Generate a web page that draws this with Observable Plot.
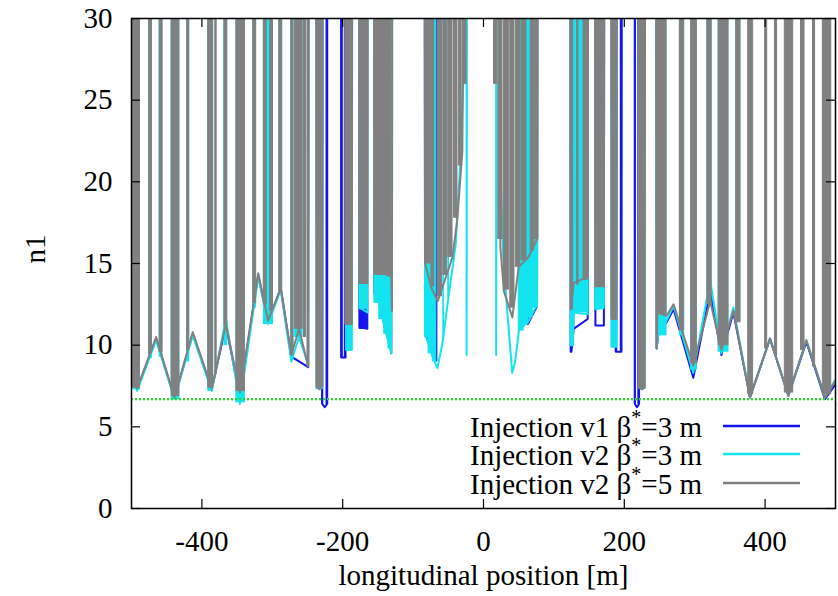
<!DOCTYPE html>
<html><head><meta charset="utf-8">
<script src="https://cdn.jsdelivr.net/npm/d3@7"></script>
<script src="https://cdn.jsdelivr.net/npm/@observablehq/plot@0.6"></script>
<style>body{margin:0;background:#fff}</style>
</head><body><div id="chart"></div>
<script>
const T = 60; // n1 far beyond the plotted range (aperture edges)
const xTicks = [-400, -200, 0, 200, 400];
const yTicks = [0, 5, 10, 15, 20, 25, 30];
const seriesNames = ["Injection v1 β", "Injection v2 β", "Injection v2 β"];
const seriesTails = ["=3 m", "=3 m", "=5 m"];
const seriesColors = ["#1414f0", "#12e4f0", "#808080"];
const limitColor = "#22dd22";
const n1Limit = 6.7;

// Injection v1 beta*=3 m
const blueLine = [
[-500,7.9],[-492,7.3],[-465,10.4],[-439,6.75],[-413,10.7],[-386,7.3],[-366,11.2],[-346,6.9],[-320,14.3],[-306,11.4],[-288,13.5],[-273,9.3],[-249,8.65],[-248,T],[-229,T],[-229,6.4],[-225.5,6.2],[-222,6.4],[-222,T],[-202,T],[-202,9.25],[-196,9.25],[-196,T],[-176,T],[-176,11.1],[-165,11.0],[-165,T],[-155,T],[-155,13.2],[-138,11.6],[-131,9.5],[-130,T],[-84,T],[-83,10.7],[-67,9.06],[-66,T],[63,T],[63,11.3],[76,12.4],[77,T],[123,T],[124,9.6],[125,9.6],[128,11.0],[148,11.6],[149,T],[158,T],[159,11.2],[171,11.2],[172,T],[187,T],[188,9.6],[196,9.6],[197,T],[215,T],[215,6.4],[218,6.2],[221,6.4],[221,T],[245,T],[246,9.8],[248,10.6],[260,11.4],[270,12.2],[298,8.0],[322,13.3],[338,9.4],[355,12.0],[378.5,6.8],[407,10.4],[433,6.9],[458.6,10.2],[485,6.7],[500,7.6]
];
const blueBars = [
[-229,-228,6.4],[-223,-222,6.4],[-202,-200,9.25],[-197,-196,9.25],[-176,-165,11.0],[-69,-66,9.06],[62,65,11.3],[124,125,9.6],[128,129,11.0],[188,190,9.6],[195,196,9.6],[215,216,6.4],[220,221,6.4]
];

// Injection v2 beta*=3 m
const cyanLine = [
[-500,8.1],[-492,7.2],[-465,10.3],[-439,6.7],[-413,10.6],[-386,7.2],[-366,11.6],[-346,6.4],[-320,14.2],[-306,11.3],[-288,13.4],[-273,9.0],[-262,10.5],[-249,8.8],[-248,T],[-238,T],[-237,7.4],[-229,7.4],[-228,T],[-196,T],[-195,9.7],[-187,9.7],[-186,T],[-177,T],[-176,12.3],[-165,12.0],[-164,T],[-156,T],[-155,14.7],[-148,12.4],[-140,11.0],[-131,9.5],[-130,T],[-84,T],[-83,10.7],[-72.5,9.3],[-65.4,8.6],[-58.4,10.1],[-48.9,13.2],[-39.4,16.2],[-32.3,21.7],[-27.6,27.4],[-25,T],[-24,T],[-24,9.4],[-23,T],[18,T],[18,9.4],[19,T],[20,T],[24.3,20.3],[28,15.5],[33.7,12.1],[40.8,8.3],[45,9.0],[50.3,10.9],[64.4,11.5],[76.2,12.5],[77,T],[123,T],[124,10.0],[127,10.0],[128,12.0],[148,11.9],[149,T],[158,T],[159,12.2],[171,12.3],[172,T],[181,T],[182,9.9],[189,9.9],[190,T],[220,T],[221,7.4],[229,7.4],[230,T],[245,T],[246,9.8],[248,10.6],[260,11.5],[270,12.4],[298,8.3],[322,14.0],[338,9.5],[355,12.3],[378.5,6.8],[407,10.4],[433,6.9],[458.6,10.3],[485,6.8],[500,7.9]
];
const cyanBars = [
[-499,-488,7.3],[-475,-471,9.2],[-460,-456,9.3],[-443,-432,6.7],[-421,-418,9.0],[-391,-384,7.2],[-368,-364,10.0],[-351,-339,6.5],[-327,-323,12.3],[-312,-299,11.3],[-290,-286,13.1],[-273,-270,9.1],[-268,-257,10.5],[-237,-229,7.3],[-195,-187,9.7],[-176,-165,12.2],[-155,-148,12.6],[-148,-141,11.6],[-141,-135,10.7],[-135,-131,9.8],[-83,-78,10.5],[-78,-72,9.5],[-72,-67,9.0],[-57,-56,10.4],[-50,-49,12.9],[50,57,10.9],[57,64,11.3],[64,70,11.7],[70,77,12.3],[124,127,10.0],[128,148,12.0],[159,171,12.2],[182,189,9.9],[248,260,10.6],[279,285,10.6],[295,303,8.5],[318,324,13.2],[334,348,9.6],[359,365,11.5]
];

// Injection v2 beta*=5 m
const grayLine = [
[-500,8.0],[-492,7.35],[-465,10.5],[-439,6.8],[-413,10.8],[-386,7.35],[-366,11.3],[-346,7.1],[-320,14.4],[-306,11.5],[-288,13.5],[-273,9.4],[-262,11.0],[-249,8.7],[-248,T],[-238,T],[-237,7.5],[-233,7.3],[-229,7.5],[-228,T],[-197,T],[-196,11.3],[-187,11.3],[-186,T],[-177,T],[-176,13.8],[-165,13.8],[-164,T],[-156,T],[-155,14.7],[-143,14.4],[-131,14.2],[-130,12.1],[-129,T],[-84,T],[-83,15.0],[-74,13.5],[-65,12.7],[-54,14.1],[-44,15.4],[-37,17.8],[-30,21.9],[-25,T],[18,T],[24,16.0],[29,13.3],[41,11.7],[50,14.8],[64,15.4],[76,16.5],[77,T],[123,T],[124,12.2],[128,13.8],[148,14.2],[149,T],[158,T],[159,13.6],[171,13.6],[172,T],[181,T],[182,11.6],[189,11.6],[190,T],[220,T],[221,7.4],[225,7.3],[229,7.4],[230,T],[245,T],[246,9.8],[247,12.0],[260,11.8],[270,12.5],[298,8.75],[322,12.7],[338,9.7],[355,12.1],[378.5,6.8],[407,10.4],[433,6.9],[458.6,10.3],[485,6.8],[500,7.8]
];
const grayBars = [
[-499,-488,7.4],[-475,-471,9.5],[-460,-456,9.6],[-443,-432,6.9],[-421,-418,9.7],[-391,-384,7.4],[-381,-379,8.2],[-368,-364,11.2],[-351,-339,7.2],[-327,-323,12.6],[-312,-308,12.5],[-303,-299,12.1],[-290,-286,13.3],[-273,-270,9.4],[-268,-257,11.0],[-255,-252,10.5],[-250,-248,8.7],[-237,-229,7.4],[-196,-187,11.3],[-176,-165,13.8],[-155,-131,14.3],
[-83,-75,15.0],[-74,-70,13.6],[-65,-59,13.0],[-57,-52,14.3],[-50,-44,15.4],[-42,-37,17.8],[-35,-31,21.0],[-29,-24,26.0],
[15,19,26.0],[21,27,16.5],[29,36,13.4],[38,44,12.3],[46,52,14.8],[54,61,15.2],[67,72,15.8],[73,78,16.5],
[124,127,12.2],[133,135,13.7],[142,148,14.0],[159,171,13.6],[182,189,11.6],[221,229,7.4],[246,247,9.8],[247,260,11.9],[279,285,10.9],[295,303,8.9],[318,324,12.5],[334,348,10.0],[359,365,11.4],[376,383,7.0],[400,403,9.8],[414,417,9.4],[428,440,7.1],[451,456,9.7],[468,471,8.7],[482,494,7.0]
];

const pts = a => a.map(([x, y]) => ({x, y}));
const bars = a => a.map(([x1, x2, y]) => ({x1, x2, y1: y, y2: T}));
const FONT = '"Liberation Serif", "Times New Roman", serif';

function seriesMarks(line, bar, color) {
  return [
    Plot.rect(bars(bar), {x1: "x1", x2: "x2", y1: "y1", y2: "y2", fill: color, stroke: color, strokeWidth: 1, clip: true}),
    Plot.line(pts(line), {x: "x", y: "y", stroke: color, strokeWidth: 2, clip: true})
  ];
}

const W = 838, H = 596, ML = 131, MR = 3, MT = 18, MB = 88;
const FW = W - ML - MR, FH = H - MT - MB, TL = 9;

const plot = Plot.plot({
  width: W, height: H,
  marginLeft: ML, marginRight: MR, marginTop: MT, marginBottom: MB,
  style: {fontFamily: FONT, fontSize: "29px", background: "white", color: "black"},
  x: {domain: [-500, 500], ticks: xTicks, tickFormat: d => String(d), label: null, tickSize: 0, tickPadding: 22},
  y: {domain: [0, 30], ticks: yTicks, tickFormat: d => String(d), label: null, tickSize: 0, tickPadding: 19},
  marks: [
    ...seriesMarks(blueLine, blueBars, seriesColors[0]),
    ...seriesMarks(cyanLine, cyanBars, seriesColors[1]),
    ...seriesMarks(grayLine, grayBars, seriesColors[2]),
    Plot.ruleY([n1Limit], {stroke: limitColor, strokeWidth: 2.2, strokeDasharray: "2,2"}),
    Plot.tickX(xTicks, {x: d => d, insetTop: FH - TL, stroke: "black", strokeWidth: 1.2}),
    Plot.tickX(xTicks, {x: d => d, insetBottom: FH - TL, stroke: "black", strokeWidth: 1.2}),
    Plot.tickY(yTicks, {y: d => d, insetRight: FW - TL, stroke: "black", strokeWidth: 1.2}),
    Plot.tickY(yTicks, {y: d => d, insetLeft: FW - TL, stroke: "black", strokeWidth: 1.2}),
    Plot.frame({stroke: "black", strokeWidth: 1.5}),
    Plot.text(["n1"], {text: d => d, frameAnchor: "left", dx: -96, rotate: -90, fontSize: 29}),
    Plot.text(["longitudinal position [m]"], {text: d => d, frameAnchor: "bottom", dy: 76, fontSize: 29})
  ]
});
document.getElementById("chart").appendChild(plot);

// legend (inside the frame, bottom right)
const svg = d3.select(plot);
const g = svg.append("g").attr("font-family", FONT).attr("font-size", 29);
const textRight = 702, lineX1 = 723, lineX2 = 800;
const baselines = [437, 465, 494];
seriesNames.forEach((name, i) => {
  const t = g.append("text").attr("x", textRight).attr("y", baselines[i]).attr("text-anchor", "end").attr("fill", "black");
  t.append("tspan").text(name);
  t.append("tspan").attr("dy", -13).attr("font-size", 20).text("*");
  t.append("tspan").attr("dy", 13).text(seriesTails[i]);
  g.append("line").attr("x1", lineX1).attr("x2", lineX2)
    .attr("y1", baselines[i] - 11).attr("y2", baselines[i] - 11)
    .attr("stroke", seriesColors[i]).attr("stroke-width", 2.5);
});
</script>
</body></html>
